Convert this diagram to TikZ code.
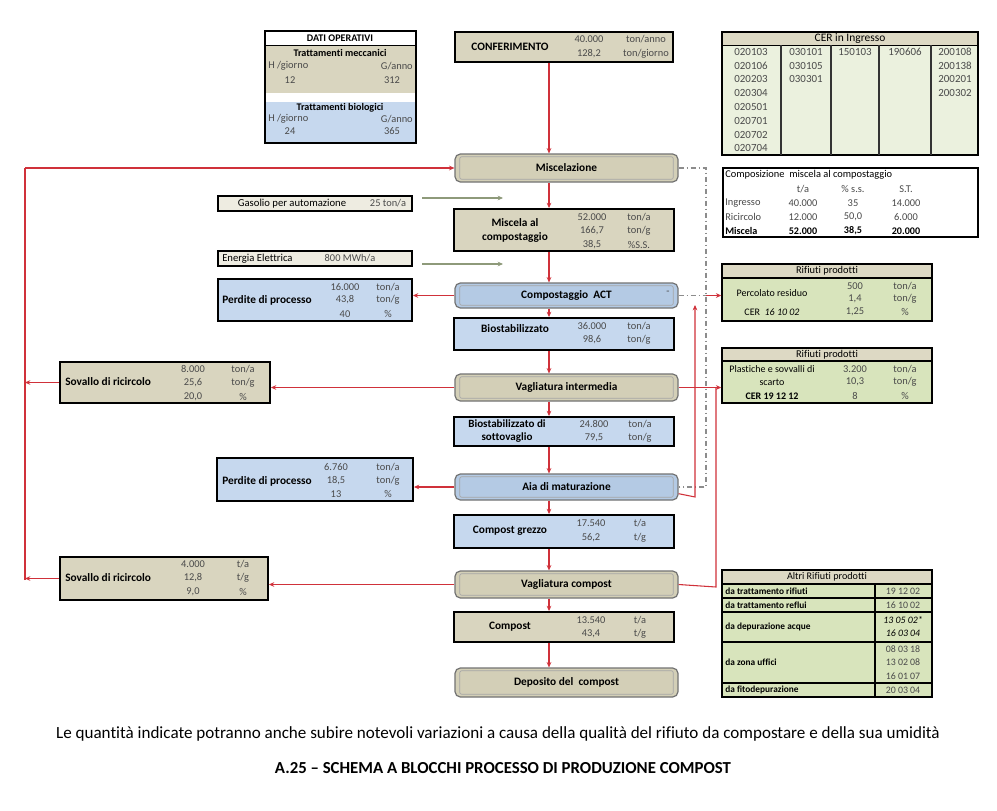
\documentclass[tikz,border=0pt]{standalone}
\usepackage{fontspec}
\setmainfont{Carlito}[Ligatures=NoCommon]
\usetikzlibrary{arrows.meta}
\definecolor{beigeF}{HTML}{D9D5BF}
\definecolor{beigeD}{HTML}{D3CFB7}
\definecolor{beigeL}{HTML}{F1F0E6}
\definecolor{blueF}{HTML}{C6D8EE}
\definecolor{blueD}{HTML}{B4CAE4}
\definecolor{blueL}{HTML}{E2EBF6}
\definecolor{greenF}{HTML}{D8E4BC}
\definecolor{lgreen}{HTML}{EBF1DE}
\definecolor{hdr}{HTML}{DDD9C4}
\definecolor{redL}{HTML}{D0313A}
\definecolor{arrG}{HTML}{8E9A7A}
\definecolor{lbeige}{HTML}{EEECE1}
\definecolor{numC}{HTML}{4A4A4A}
\tikzset{
  sz/.style 2 args={minimum width=#1*0.75pt, minimum height=#2*0.75pt},
  pbox/.style={draw=black, line width=1.4pt, inner sep=0pt, rectangle},
  tbox/.style={draw=black, line width=1.1pt, inner sep=0pt, rectangle},
  rbeige/.style={draw=black!55, line width=0.9pt, rounded corners=4pt, inner sep=0pt,
     top color=beigeD, middle color=beigeL, bottom color=beigeD},
  rblue/.style={draw=black!55, line width=0.9pt, rounded corners=4pt, inner sep=0pt,
     top color=blueD, middle color=blueL, bottom color=blueD},
  innerb/.style={draw=black!35, line width=0.5pt, rounded corners=1.5pt},
  tn/.style={inner sep=0pt, text=numC, font=\fontsize{7.8}{9}\selectfont},
  tk/.style={inner sep=0pt, text=black, font=\fontsize{8}{9}\selectfont},
  tr/.style={inner sep=0pt, text=black, font=\fontsize{7.5}{9}\selectfont},
  tb/.style={inner sep=0pt, text=black, font=\fontsize{8.5}{10}\selectfont\bfseries, align=center},
  td/.style={inner sep=0pt, text=black, font=\fontsize{7.6}{9}\selectfont\bfseries},
  rarrow/.style={draw=redL, line width=0.8pt, -{Stealth[length=4pt,width=3.5pt]}},
  rline/.style={draw=redL, line width=0.8pt},
  garrow/.style={draw=arrG, line width=1pt, -{Stealth[length=4pt,width=3.5pt]}},
  dashdot/.style={draw=black!45, line width=0.8pt, dash pattern=on 4pt off 2pt on 1pt off 2pt},
}
\newcommand\rbx[6]{%
  \node[#5, sz={223}{#4}] (#1) at (#2,#3) {};
  \draw[innerb] ([xshift=4pt,yshift=-2.5pt]#1.north west) rectangle ([xshift=-4pt,yshift=2.5pt]#1.south east);
  \node[tb] (#1t) at (#1) {#6};
}
\begin{document}
\begin{tikzpicture}[x=0.75pt,y=-0.75pt]
\useasboundingbox (0,0) rectangle (997,811);
\fill[white] (0,0) rectangle (997,811);

% ---------- DATI OPERATIVI ----------
\fill[beigeF] (265,45) rectangle (416,93);
\fill[blueF] (265,102) rectangle (416,143);
\draw[black, line width=0.6pt] (265,45) -- (416,45);
\node[pbox, sz={151}{112}] (dati) at (340.5,87) {};
\node[td] (d1) at (340,38) {DATI OPERATIVI};
\node[td] (d2) at (340,53) {Trattamenti meccanici};
\node[tn, anchor=west] (d3) at (268,66) {H /giorno};
\node[tn, anchor=east] (d4) at (413,66) {G/anno};
\node[tn] (d5) at (290,80) {12};
\node[tn] (d6) at (392,80) {312};
\node[td] (d7) at (340,108) {Trattamenti biologici};
\node[tn, anchor=west] (d8) at (268,119) {H /giorno};
\node[tn, anchor=east] (d9) at (413,119) {G/anno};
\node[tn] (d10) at (290,131) {24};
\node[tn] (d11) at (392,131) {365};

% ---------- CER in Ingresso ----------
\fill[lgreen] (722,45) rectangle (978,155);
\fill[hdr] (722,32) rectangle (978,45);
\node[tbox, line width=0.9pt, sz={256}{123}] (cer) at (850,93.5) {};
\draw[black, line width=0.7pt] (722,45) -- (978,45);
\foreach \xx in {781,831,879,931} \draw[black!80, line width=1.2pt] (\xx,45) -- (\xx,155);
\node[tk, font=\fontsize{8.6}{9}\selectfont] (cerh) at (850,38.5) {CER in Ingresso};
\foreach \v [count=\i] in {020103,020106,020203,020304,020501,020701,020702,020704}
  \node[tn, font=\fontsize{8.2}{9}\selectfont] (ca\i) at (751,38+\i*13.8) {\v};
\foreach \v [count=\i] in {030101,030105,030301}
  \node[tn, font=\fontsize{8.2}{9}\selectfont] (cb\i) at (806,38+\i*13.8) {\v};
\node[tn, font=\fontsize{8.2}{9}\selectfont] (cc1) at (855,51.8) {150103};
\node[tn, font=\fontsize{8.2}{9}\selectfont] (cd1) at (905,51.8) {190606};
\foreach \v [count=\i] in {200108,200138,200201,200302}
  \node[tn, font=\fontsize{8.2}{9}\selectfont] (ce\i) at (955,38+\i*13.8) {\v};

% ---------- Composizione ----------
\node[tbox, line width=0.8pt, fill=white, sz={255}{69}] (compz) at (850.5,202.5) {};
\node[tk, anchor=west, font=\fontsize{7.8}{9}\selectfont] (cz0) at (725,175) {Composizione\ \ miscela al compostaggio};
\node[tn] (cz1) at (803,189) {t/a};
\node[tn] (cz2) at (853,189) {\% s.s.};
\node[tn] (cz3) at (906,189) {S.T.};
\node[tn, anchor=west] (cz4) at (725,203) {Ingresso};
\node[tn] (cz5) at (803,203) {40.000};
\node[tn] (cz6) at (853,203) {35};
\node[tn] (cz7) at (906,203) {14.000};
\node[tn, anchor=west] (cz8) at (725,217) {Ricircolo};
\node[tn] (cz9) at (803,217) {12.000};
\node[tn] (cz10) at (853,217) {50,0};
\node[tn] (cz11) at (906,217) {6.000};
\node[td, anchor=west] (cz12) at (725,231) {Miscela};
\node[td] (cz13) at (803,231) {52.000};
\node[td] (cz14) at (853,231) {38,5};
\node[td] (cz15) at (906,231) {20.000};

% ---------- Center column ----------
\node[pbox, fill=beigeF, sz={218}{30}] (conf) at (564,47) {};
\node[tb] (conft) at (510,47) {CONFERIMENTO};
\node[tn] (cf1) at (589,39) {40.000};
\node[tn] (cf2) at (646,39) {ton/anno};
\node[tn] (cf3) at (589,54) {128,2};
\node[tn] (cf4) at (646,54) {ton/giorno};

\rbx{misc}{566.5}{168}{28}{rbeige}{Miscelazione}

\node[pbox, fill=beigeF, sz={220}{42}] (miscela) at (564,230) {};
\node[tb, font=\fontsize{8.5}{10.5}\selectfont\bfseries] (miscelat) at (515,230) {Miscela al\\compostaggio};
\node[tn] (m1) at (592,217) {52.000};
\node[tn] (m2) at (592,231) {166,7};
\node[tn] (m3) at (592,245) {38,5};
\node[tn] (m4) at (639,217) {ton/a};
\node[tn] (m5) at (639,231) {ton/g};
\node[tn] (m6) at (639,245) {\%S.S.};

\rbx{comp}{566.5}{295.5}{25}{rblue}{Compostaggio\ \ ACT}
\node[tn] (compdash) at (668,293) {-};

\node[pbox, fill=blueF, sz={220}{32}] (bio) at (564,334) {};
\node[tb] (biot) at (515,329) {Biostabilizzato};
\node[tn] (b1) at (592,326) {36.000};
\node[tn] (b2) at (592,340) {98,6};
\node[tn] (b3) at (639,326) {ton/a};
\node[tn] (b4) at (639,340) {ton/g};

\rbx{vagi}{566.5}{387.5}{27}{rbeige}{Vagliatura intermedia}

\node[pbox, fill=blueF, sz={220}{29}] (biosv) at (564,431.5) {};
\node[tb, font=\fontsize{8.3}{10}\selectfont\bfseries] (biosvt) at (507,431) {Biostabilizzato di\\sottovaglio};
\node[tn] (bs1) at (594,424) {24.800};
\node[tn] (bs2) at (594,438) {79,5};
\node[tn] (bs3) at (640,424) {ton/a};
\node[tn] (bs4) at (640,438) {ton/g};

\rbx{aia}{566.5}{487}{26}{rblue}{Aia di maturazione}

\node[pbox, fill=blueF, sz={220}{33}] (cgr) at (564,531.5) {};
\node[tb] (cgrt) at (510,531) {Compost grezzo};
\node[tn] (cg1) at (591,523) {17.540};
\node[tn] (cg2) at (591,538) {56,2};
\node[tn] (cg3) at (640,523) {t/a};
\node[tn] (cg4) at (640,538) {t/g};

\rbx{vagc}{566.5}{584.5}{27}{rbeige}{Vagliatura compost}

\node[pbox, fill=beigeF, sz={220}{30}] (compost) at (564,627) {};
\node[tb] (compostt) at (510,627) {Compost};
\node[tn] (co1) at (591,620) {13.540};
\node[tn] (co2) at (591,634) {43,4};
\node[tn] (co3) at (640,620) {t/a};
\node[tn] (co4) at (640,634) {t/g};

\rbx{dep}{566.5}{682.5}{29}{rbeige}{Deposito del\ \ compost}

% ---------- Left column ----------
\node[pbox, fill=lbeige, sz={194}{15}] (gas) at (315,203.5) {};
\node[tk] (gast) at (292,203.5) {Gasolio per automazione};
\node[tn] (gasv) at (388,203.5) {25 ton/a};

\node[pbox, fill=lbeige, sz={194}{15}] (ene) at (315,258.5) {};
\node[tk, anchor=west] (enet) at (222,258.5) {Energia Elettrica};
\node[tn] (enev) at (350,258.5) {800 MWh/a};

\node[pbox, fill=blueF, sz={194}{42}] (perd1) at (315,300) {};
\node[tb, anchor=west] (perd1t) at (222,300) {Perdite di processo};
\node[tn] (p11) at (345,287) {16.000};
\node[tn] (p12) at (345,300) {43,8};
\node[tn] (p13) at (345,314) {40};
\node[tn] (p14) at (388,287) {ton/a};
\node[tn] (p15) at (388,300) {ton/g};
\node[tn] (p16) at (388,314) {\%};

\node[pbox, fill=beigeF, sz={210}{41}] (sov1) at (165,382.5) {};
\node[tb, anchor=west] (sov1t) at (65,382) {Sovallo di ricircolo};
\node[tn] (s11) at (193,369) {8.000};
\node[tn] (s12) at (193,383) {25,6};
\node[tn] (s13) at (193,397) {20,0};
\node[tn] (s14) at (243,369) {ton/a};
\node[tn] (s15) at (243,383) {ton/g};
\node[tn] (s16) at (243,397) {\%};

\node[pbox, fill=blueF, sz={196}{43}] (perd2) at (315,479.5) {};
\node[tb, anchor=west] (perd2t) at (222,481) {Perdite di processo};
\node[tn] (p21) at (336,467) {6.760};
\node[tn] (p22) at (336,481) {18,5};
\node[tn] (p23) at (336,494) {13};
\node[tn] (p24) at (388,467) {ton/a};
\node[tn] (p25) at (388,481) {ton/g};
\node[tn] (p26) at (388,494) {\%};

\node[pbox, fill=beigeF, sz={208}{43}] (sov2) at (164,578.5) {};
\node[tb, anchor=west] (sov2t) at (65,578) {Sovallo di ricircolo};
\node[tn] (s21) at (193,564) {4.000};
\node[tn] (s22) at (193,578) {12,8};
\node[tn] (s23) at (193,592) {9,0};
\node[tn] (s24) at (243,564) {t/a};
\node[tn] (s25) at (243,578) {t/g};
\node[tn] (s26) at (243,592) {\%};

% ---------- Right tables ----------
\fill[greenF] (722,278) rectangle (932,321);
\fill[hdr] (722,264) rectangle (932,278);
\node[tbox, sz={210}{57}] (rif1) at (827,292.5) {};
\draw[black, line width=0.9pt] (722,278) -- (932,278);
\node[tr, font=\fontsize{7.8}{9}\selectfont] (r1h) at (827,271) {Rifiuti prodotti};
\node[tr] (r1a) at (772,293) {Percolato residuo};
\node[tr] (r1b) at (772,312) {CER\ \ \textit{16 10 02}};
\node[tn] (r1c) at (855,286) {500};
\node[tn] (r1d) at (855,299) {1,4};
\node[tn] (r1e) at (855,312) {1,25};
\node[tn] (r1f) at (905,286) {ton/a};
\node[tn] (r1g) at (905,299) {ton/g};
\node[tn] (r1i) at (905,312) {\%};

\fill[greenF] (722,361) rectangle (932,403);
\fill[hdr] (722,348) rectangle (932,361);
\node[tbox, sz={210}{55}] (rif2) at (827,375.5) {};
\draw[black, line width=0.9pt] (722,361) -- (932,361);
\node[tr, font=\fontsize{7.8}{9}\selectfont] (r2h) at (827,354.5) {Rifiuti prodotti};
\node[tr] (r2a) at (772,369) {Plastiche e sovvalli di};
\node[tr] (r2b) at (772,382) {scarto};
\node[td, font=\fontsize{7.5}{9}\selectfont\bfseries] (r2c) at (772,396) {CER 19 12 12};
\node[tn] (r2d) at (855,369) {3.200};
\node[tn] (r2e) at (855,382) {10,3};
\node[tn] (r2f) at (855,396) {8};
\node[tn] (r2g) at (905,369) {ton/a};
\node[tn] (r2i) at (905,382) {ton/g};
\node[tn] (r2j) at (905,396) {\%};

\fill[greenF] (722,584) rectangle (932,697);
\fill[hdr] (722,570) rectangle (932,584);
\node[tbox, sz={210}{127}] (altri) at (827,633.5) {};
\foreach \yy in {584,598,612,642,683} \draw[black, line width=0.9pt] (722,\yy) -- (932,\yy);
\draw[black, line width=0.9pt] (875,584) -- (875,697);
\node[tr, font=\fontsize{7.6}{9}\selectfont] (ah) at (827,577) {Altri Rifiuti prodotti};
\node[td, anchor=west, font=\fontsize{7}{8}\selectfont\bfseries] (a1) at (725,591) {da trattamento rifiuti};
\node[td, anchor=west, font=\fontsize{7}{8}\selectfont\bfseries] (a2) at (725,605) {da trattamento reflui};
\node[td, anchor=west, font=\fontsize{7}{8}\selectfont\bfseries] (a3) at (725,627) {da depurazione acque};
\node[td, anchor=west, font=\fontsize{7}{8}\selectfont\bfseries] (a4) at (725,662.5) {da zona uffici};
\node[td, anchor=west, font=\fontsize{7}{8}\selectfont\bfseries] (a5) at (725,690) {da fitodepurazione};
\node[tn, font=\fontsize{7.4}{8}\selectfont] (av1) at (903,591) {19 12 02};
\node[tn, font=\fontsize{7.4}{8}\selectfont] (av2) at (903,605) {16 10 02};
\node[tn, font=\fontsize{7.4}{8}\selectfont\itshape, text=black] (av3) at (903,620) {13 05 02*};
\node[tn, font=\fontsize{7.4}{8}\selectfont\itshape, text=black] (av4) at (903,633) {16 03 04};
\node[tn, font=\fontsize{7.4}{8}\selectfont] (av5) at (903,649) {08 03 18};
\node[tn, font=\fontsize{7.4}{8}\selectfont] (av6) at (903,662.5) {13 02 08};
\node[tn, font=\fontsize{7.4}{8}\selectfont] (av7) at (903,676) {16 01 07};
\node[tn, font=\fontsize{7.4}{8}\selectfont] (av8) at (903,690) {20 03 04};

% ---------- Caption ----------
\node[inner sep=0pt, font=\fontsize{12.8}{14}\selectfont] (cap1) at (498,734) {Le quantità indicate potranno anche subire notevoli variazioni a causa della qualità del rifiuto da compostare e della sua umidità};
\node[inner sep=0pt, font=\fontsize{12.6}{14}\selectfont\bfseries] (cap2) at (503,768) {A.25 – SCHEMA A BLOCCHI PROCESSO DI PRODUZIONE COMPOST};

% ---------- Connectors: center ----------
\coordinate (cx) at (549,0);
\draw[rarrow] (conf.south -| cx) -- (misc.north -| cx);
\draw[rarrow] (misc.south -| cx) -- (miscela.north -| cx);
\draw[rarrow] (miscela.south -| cx) -- (comp.north -| cx);
\draw[rarrow] (comp.south -| cx) -- (bio.north -| cx);
\draw[rarrow] (bio.south -| cx) -- (vagi.north -| cx);
\draw[rarrow] (vagi.south -| cx) -- (biosv.north -| cx);
\draw[rarrow] (biosv.south -| cx) -- (aia.north -| cx);
\draw[rarrow] (aia.south -| cx) -- (cgr.north -| cx);
\draw[rarrow] (cgr.south -| cx) -- (vagc.north -| cx);
\draw[rarrow] (vagc.south -| cx) -- (compost.north -| cx);
\draw[rarrow] (compost.south -| cx) -- (dep.north -| cx);

% ---------- Connectors: left ----------
\coordinate (lx) at (25,0);
\coordinate (lbot) at (25,580);
\draw[rline] (lbot) -- (lx |- misc.west);
\draw[rarrow] (lx |- misc.west) -- (misc.west);
\draw[rarrow] (sov1.west) -- (sov1.west -| lx);
\draw[rarrow] (sov2.west) -- (sov2.west -| lx);
\draw[rarrow] (vagi.west) -- (vagi.west -| sov1.east);
\draw[rarrow] (comp.west) -- (comp.west -| perd1.east);
\draw[rarrow] (aia.west) -- (aia.west -| perd2.east);
\draw[rarrow] (vagc.west) -- (vagc.west -| sov2.east);
\coordinate (ga1) at (422,198);
\coordinate (ga2) at (503,198);
\draw[garrow] (ga1) -- (ga2);
\coordinate (ea1) at (422,264);
\coordinate (ea2) at (503,264);
\draw[garrow] (ea1) -- (ea2);

% ---------- Connectors: right ----------
\coordinate (dx) at (706,0);
\draw[dashdot] (misc.east) -- (misc.east -| dx) -- (aia.east -| dx) -- (aia.east);
\draw[dashdot] (comp.east) -- (comp.east -| dx);
\draw[rarrow] (comp.east -| dx) -- (comp.east -| rif1.west);
\coordinate (rx1) at (695,497);
\coordinate (up1) at (695,305);
\draw[rarrow] ([yshift=-5pt]aia.east) -- (rx1) -- (up1);
\draw[rarrow] (vagi.east) -- (vagi.east -| rif2.west);
\coordinate (rx2) at (716,587);
\coordinate (rx2t) at (716,388);
\draw[rline] (vagc.east) -- (rx2) -- (rx2t);
\end{tikzpicture}
\end{document}
